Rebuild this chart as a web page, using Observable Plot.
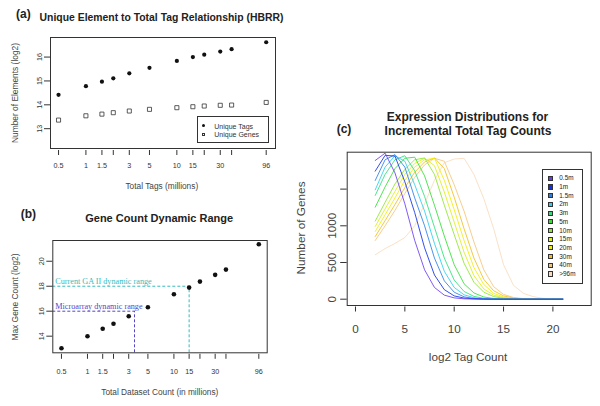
<!DOCTYPE html>
<html><head><meta charset="utf-8">
<script src="https://cdn.jsdelivr.net/npm/d3@7"></script>
<script src="https://cdn.jsdelivr.net/npm/@observablehq/plot@0.6"></script>
<style>
body{margin:0;background:#fff;}
#c{position:relative;width:600px;height:406px;overflow:hidden;font-family:"Liberation Sans",Arial,sans-serif;color:#222;background:#fff;}
.t{position:absolute;white-space:nowrap;line-height:1;}
.p{position:absolute;}
.p svg{overflow:visible;}
</style></head><body><div id="c"></div>
<script>
// ---------- data ----------
const depths = [0.5, 1, 1.5, 2, 3, 5, 10, 15, 20, 30, 40, 96];
const depthTickLabels = ["0.5", "1", "1.5", "", "3", "5", "10", "15", "", "30", "", "96"];
const uniqueTags  = [14.42, 14.78, 14.97, 15.11, 15.32, 15.55, 15.84, 16.00, 16.10, 16.23, 16.33, 16.62];
const uniqueGenes = [13.36, 13.54, 13.61, 13.67, 13.74, 13.81, 13.88, 13.92, 13.95, 13.98, 13.99, 14.10];
const maxGeneCount = [13.04, 14.00, 14.59, 14.99, 15.60, 16.32, 17.36, 17.89, 18.37, 18.91, 19.33, 21.36];
const rangeNames  = ["Current GA II dynamic range", "Microarray dynamic range"];
const rangeLevels = [18, 16];
const rangeDepths = [15, 3.5];
const rangeColors = ["#36bcbc", "#5546c8"];

const binX = [2,3,4,5,6,7,8,9,10,11,12,13,14,15,16,17,18,19,20,21];
const seriesLabels = ["0.5m","1m","1.5m","2m","3m","5m","10m","15m","20m","30m","40m",">96m"];
const seriesColors = ["#6a3df5","#1030e8","#2a80e6","#28d0f0","#2ee07a","#33e033","#8ee82a","#dcef1a","#f2f000","#f0c020","#f4c67a","#f8dcbc"];
const s05  = [1890,1990,1720,1300, 800, 400, 160,  55,  18,   5,   2,   0,   0,  0,  0, 0, 0, 0, 0, 0];
const s1   = [1745,1960,1950,1600,1180, 700, 330, 130,  45,  15,   5,   1,   0,  0,  0, 0, 0, 0, 0, 0];
const s15  = [1618,1900,1970,1800,1380,1000, 560, 250,  95,  32,  10,   3,   0,  0,  0, 0, 0, 0, 0, 0];
const s2   = [1490,1800,1955,1880,1560,1200, 760, 380, 160,  60,  20,   6,   2,  0,  0, 0, 0, 0, 0, 0];
const s3   = [1414,1700,1900,1955,1750,1400, 980, 560, 260, 105,  38,  12,   4,  1,  0, 0, 0, 0, 0, 0];
const s5   = [1254,1530,1780,1920,1935,1680,1280, 860, 470, 210,  85,  30,  10,  3,  0, 0, 0, 0, 0, 0];
const s10  = [1064,1320,1570,1770,1900,1925,1700,1280, 880, 490, 230,  95,  35, 12,  4, 1, 0, 0, 0, 0];
const s15m = [ 991,1230,1470,1700,1850,1920,1820,1460,1050, 640, 320, 140,  55, 20,  7, 2, 0, 0, 0, 0];
const s20  = [ 923,1150,1380,1620,1800,1900,1920,1620,1220, 800, 430, 200,  80, 30, 10, 3, 1, 0, 0, 0];
const s30  = [ 854,1070,1290,1520,1730,1870,1925,1780,1390, 960, 560, 270, 115, 45, 15, 5, 2, 0, 0, 0];
const s40  = [ 800,1000,1210,1440,1660,1830,1920,1880,1560,1200, 780, 400, 170, 65, 24, 8, 2, 0, 0, 0];
const s96  = [ 605, 690, 760, 840,1000,1300,1620,1860,1910,1920,1700,1370, 960,470,190,80,35,12, 4, 0];
const seriesValues = [s05, s1, s15, s2, s3, s5, s10, s15m, s20, s30, s40, s96];
const cTicksX = [0, 5, 10, 15, 20];
const cTicksY = [0, 500, 1000, 1500];
const cTickLabelsY = ["0", "500", "1000", ""];

// ---------- helpers ----------
const root = document.getElementById("c");
const FONT = '"Liberation Sans", Arial, sans-serif';
function addText(txt, x, y, {size = 8, weight = "normal", color = "#333", rotate = 0, anchor = "middle", family = FONT} = {}) {
  const d = document.createElement("div");
  d.className = "t";
  d.textContent = txt;
  d.style.left = x + "px"; d.style.top = y + "px";
  d.style.fontSize = size + "px"; d.style.fontWeight = weight; d.style.color = color; d.style.fontFamily = family;
  const tx = anchor === "start" ? "0" : "-50%";
  d.style.transform = `translate(${tx},-50%)` + (rotate ? ` rotate(${rotate}deg)` : "");
  if (anchor === "start") d.style.transformOrigin = "0 50%";
  root.appendChild(d);
  return d;
}
function place(svg, left, top) {
  const d = document.createElement("div");
  d.className = "p"; d.style.left = left + "px"; d.style.top = top + "px";
  d.appendChild(svg); root.appendChild(d);
}
const L2 = Math.log2;
// x positions on a log2 axis (the charts use a logarithmic depth axis)
const depthTicks = depths.map(L2);
const labelMap = new Map(depths.map((d, i) => [L2(d), depthTickLabels[i]]));

// ---------- panel (a) ----------
const tagData = depths.map((d, i) => ({ld: L2(d), v: uniqueTags[i]}));
const geneData = depths.map((d, i) => ({ld: L2(d), v: uniqueGenes[i]}));
const plotA = Plot.plot({
  width: 300, height: 200, marginLeft: 50, marginRight: 25, marginTop: 37, marginBottom: 52,
  style: {fontFamily: FONT, fontSize: "7.2px", color: "#333", background: "transparent"},
  x: {domain: [L2(0.408), L2(121.5)], label: null},
  y: {domain: [12.17, 16.82], label: null},
  marks: [
    Plot.frame({stroke: "#333"}),
    Plot.axisX(depthTicks, {tickSize: 5, dy: 2, tickPadding: 7, tickFormat: d => labelMap.get(d), label: null, stroke: "#333"}),
    Plot.axisY([13, 14, 15, 16], {tickSize: 6, tickPadding: 3, tickRotate: -90, tickFormat: d => String(d), label: null, stroke: "#333"}),
    Plot.dot(geneData, {x: "ld", y: "v", symbol: "square", r: 2.3, stroke: "#333", strokeWidth: 0.8, fill: "none"}),
    Plot.dot(tagData, {x: "ld", y: "v", r: 2.1, fill: "#111", stroke: "none"})
  ]
});
place(plotA, 0, 0);
addText("(a)", 16, 13.5, {size: 12, weight: "bold", color: "#222", anchor: "start"});
addText("Unique Element to Total Tag Relationship (HBRR)", 161.5, 18.3, {size: 10.4, weight: "bold", color: "#222"});
addText("Total Tags (millions)", 161.8, 186, {size: 8.3, color: "#444"});
addText("Number of Elements (log2)", 15, 93, {size: 8.4, color: "#444", rotate: -90});
// legend (a)
{
  const box = document.createElement("div");
  Object.assign(box.style, {position: "absolute", left: "196.7px", top: "116.3px", width: "70.6px", height: "25px", border: "1px solid #333"});
  root.appendChild(box);
  const names = ["Unique Tags", "Unique Genes"];
  const ys = [125.7, 134.3];
  names.forEach((n, i) => {
    const s = document.createElement("div");
    const sz = i === 0 ? 3.6 : 3.4;
    Object.assign(s.style, {position: "absolute", left: (203.7 - sz / 2) + "px", top: (ys[i] - sz / 2) + "px", width: sz + "px", height: sz + "px",
      boxSizing: "border-box", borderRadius: i === 0 ? "50%" : "0", background: i === 0 ? "#111" : "none", border: i === 0 ? "none" : "0.8px solid #333"});
    root.appendChild(s);
    addText(n, 214.3, ys[i], {size: 7, color: "#333", anchor: "start"});
  });
}

// ---------- panel (b) ----------
const bData = depths.map((d, i) => ({ld: L2(d), v: maxGeneCount[i]}));
const xB = [L2(0.397), L2(120)], yB = [12.67, 21.66];
const rangeData = rangeNames.map((n, i) => ({name: n, level: rangeLevels[i], ld: L2(rangeDepths[i]), color: rangeColors[i]}));
const plotB = Plot.plot({
  width: 300, height: 216, marginLeft: 52.3, marginRight: 33.3, marginTop: 50, marginBottom: 53.7,
  style: {fontFamily: FONT, fontSize: "7.2px", color: "#333", background: "transparent"},
  x: {domain: xB, label: null},
  y: {domain: yB, label: null},
  marks: [
    Plot.ruleY(rangeData, {y: "level", x1: xB[0], x2: "ld", stroke: "color", strokeDasharray: "3,2", strokeWidth: 1}),
    Plot.ruleX(rangeData, {x: "ld", y1: yB[0], y2: "level", stroke: "color", strokeDasharray: "3,2", strokeWidth: 1}),
    Plot.text(rangeData, {x: xB[0], y: "level", text: "name", fill: "color", textAnchor: "start", lineAnchor: "bottom", dx: 2.5, dy: -2,
      fontFamily: '"Liberation Serif", "DejaVu Serif", serif', fontSize: 8.2}),
    Plot.frame({stroke: "#333"}),
    Plot.axisX(depthTicks, {tickSize: 5, dy: 1.5, tickPadding: 9.5, tickFormat: d => labelMap.get(d), label: null, stroke: "#333"}),
    Plot.axisY([14, 16, 18, 20], {tickSize: 6, tickPadding: 3, tickRotate: -90, tickFormat: d => String(d), label: null, stroke: "#333"}),
    Plot.dot(bData, {x: "ld", y: "v", r: 2.3, fill: "#111", stroke: "none"})
  ]
});
place(plotB, 0, 190);
addText("(b)", 20.7, 214, {size: 12, weight: "bold", color: "#222", anchor: "start"});
addText("Gene Count Dynamic Range", 159.2, 218.3, {size: 11, weight: "bold", color: "#222"});
addText("Total Dataset Count (in millions)", 159.8, 392.3, {size: 8.3, color: "#444"});
addText("Max Gene Count (log2)", 15, 297, {size: 8.4, color: "#444", rotate: -90});

// ---------- panel (c) ----------
const cData = [];
for (let s = seriesLabels.length - 1; s >= 0; s--) {
  binX.forEach((x, i) => cData.push({series: seriesLabels[s], x, v: seriesValues[s][i]}));
}
const yLabelMap = new Map(cTicksY.map((d, i) => [d, cTickLabelsY[i]]));
const plotC = Plot.plot({
  width: 300, height: 306, marginLeft: 46.7, marginRight: 9.3, marginTop: 51.7, marginBottom: 101,
  style: {fontFamily: FONT, fontSize: "11.7px", color: "#444", background: "transparent"},
  x: {domain: [-0.84, 23.88], label: null},
  y: {domain: [-86, 2003], label: null},
  color: {type: "ordinal", domain: seriesLabels, range: seriesColors},
  marks: [
    Plot.line(cData, {x: "x", y: "v", z: "series", stroke: "series", strokeWidth: 1, strokeOpacity: 0.85}),
    Plot.frame({stroke: "#333"}),
    Plot.axisX(cTicksX, {tickSize: 5, dy: 1.5, tickPadding: 13, label: null, stroke: "#333"}),
    Plot.axisY(cTicksY, {tickSize: 6.5, tickPadding: 5, tickRotate: -90, tickFormat: d => yLabelMap.get(d), label: null, stroke: "#333"})
  ]
});
place(plotC, 300, 100);
addText("(c)", 336.7, 129.3, {size: 12, weight: "bold", color: "#222", anchor: "start"});
addText("Expression Distributions for", 467.5, 116.7, {size: 12, weight: "bold", color: "#222"});
addText("Incremental Total Tag Counts", 468, 131, {size: 12, weight: "bold", color: "#222"});
addText("log2 Tag Count", 468, 357.3, {size: 11.7, color: "#444"});
addText("Number of Genes", 301.7, 228, {size: 11.8, color: "#444", rotate: -90});
// legend (c)
{
  const box = document.createElement("div");
  Object.assign(box.style, {position: "absolute", left: "542.3px", top: "169px", width: "38.4px", height: "113.3px", border: "1px solid #333"});
  root.appendChild(box);
  seriesLabels.forEach((n, i) => {
    const y = 178.3 + i * 8.7;
    const s = document.createElement("div");
    Object.assign(s.style, {position: "absolute", left: "548.3px", top: (y - 2.6) + "px", width: "5.2px", height: "5.2px", boxSizing: "border-box",
      background: seriesColors[i], border: "0.8px solid #333"});
    root.appendChild(s);
    addText(n, 559.3, y, {size: 6.4, color: "#222", anchor: "start"});
  });
}
</script></body></html>
